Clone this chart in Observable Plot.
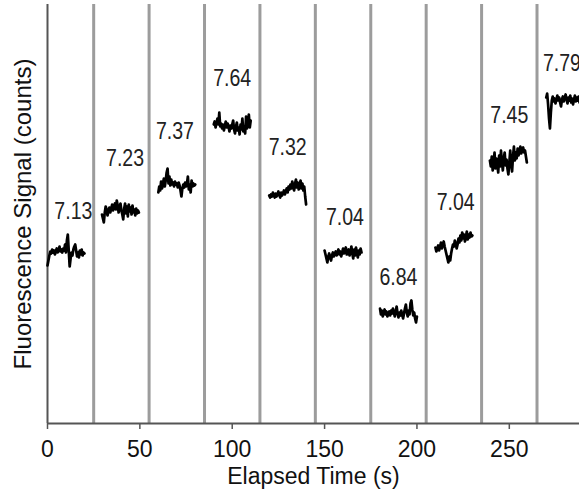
<!DOCTYPE html>
<html>
<head>
<meta charset="utf-8">
<script src="https://cdn.jsdelivr.net/npm/d3@7"></script>
<script src="https://cdn.jsdelivr.net/npm/@observablehq/plot@0.6"></script>
<style>
  html, body { margin: 0; padding: 0; background: #fff; }
  #chart svg { display: block; }
</style>
</head>
<body>
<div id="chart"></div>
<script>
// Segment start times (s) and sampling interval
const segmentStarts = [0, 29.5, 60, 90, 120, 150, 180, 210, 239.5, 270];
const sampleInterval = 0.5;

// Fluorescence signal (counts) for each measurement segment
const seg1 = [735, 740, 745, 749, 747, 751, 748, 750, 746, 749, 752, 748, 750, 754, 749, 751, 748, 752, 750, 756, 748, 760, 766, 750, 734, 742, 748, 745, 751, 754, 756, 750, 744, 748, 743, 750, 746, 751, 745, 748, 747];
const seg2 = [786, 782, 778, 788, 794, 791, 785, 789, 793, 788, 792, 796, 790, 794, 797, 791, 800, 795, 788, 793, 797, 790, 786, 781, 792, 797, 787, 794, 784, 796, 789, 793, 786, 795, 788, 791, 785, 792, 787, 790, 788];
const seg3 = [808, 814, 810, 819, 812, 817, 822, 814, 820, 828, 832, 817, 824, 815, 821, 816, 818, 814, 819, 816, 817, 813, 818, 815, 810, 804, 812, 816, 813, 818, 814, 817, 824, 811, 816, 808, 820, 814, 817, 815, 816];
const seg4 = [876, 879, 873, 878, 882, 876, 888, 874, 877, 872, 876, 870, 875, 879, 873, 877, 874, 869, 875, 872, 876, 880, 871, 867, 874, 878, 870, 873, 866, 876, 871, 882, 869, 874, 867, 884, 872, 878, 886, 873, 880];
const seg5 = [805, 803, 806, 804, 808, 805, 803, 807, 804, 806, 809, 805, 803, 808, 805, 807, 810, 806, 809, 812, 808, 814, 811, 816, 812, 819, 814, 810, 817, 821, 813, 818, 811, 815, 820, 812, 817, 810, 814, 804, 796];
const seg6 = [750, 746, 742, 738, 744, 747, 743, 740, 745, 748, 744, 747, 749, 745, 748, 751, 746, 749, 744, 748, 752, 747, 750, 753, 746, 749, 751, 745, 748, 754, 747, 742, 751, 745, 753, 748, 743, 750, 746, 752, 748];
const seg7 = [692, 686, 690, 684, 688, 691, 686, 689, 684, 687, 689, 685, 690, 687, 692, 688, 684, 689, 694, 687, 683, 688, 685, 690, 686, 682, 687, 692, 696, 688, 684, 690, 686, 697, 700, 691, 685, 688, 682, 678, 684];
const seg8 = [753, 749, 752, 755, 750, 754, 758, 752, 756, 759, 754, 750, 746, 742, 738, 744, 740, 747, 752, 756, 754, 760, 757, 752, 756, 762, 758, 765, 760, 768, 762, 766, 759, 764, 769, 761, 766, 763, 768, 764, 765];
const seg9 = [840, 834, 844, 830, 838, 848, 832, 842, 836, 828, 845, 834, 850, 839, 830, 842, 848, 835, 841, 832, 826, 838, 850, 836, 829, 844, 854, 840, 848, 842, 852, 845, 850, 854, 847, 851, 853, 848, 850, 844, 838];
const seg10 = [903, 907, 896, 882, 872, 888, 900, 904, 899, 902, 897, 901, 905, 900, 903, 898, 894, 901, 904, 899, 903, 906, 901, 897, 903, 900, 905, 898, 902, 896, 901, 905, 899, 903, 900, 904, 898, 902, 900, 903, 901];
const segments = [seg1, seg2, seg3, seg4, seg5, seg6, seg7, seg8, seg9, seg10];

// Solution change markers (s)
const dividers = [25, 55, 85, 115, 145, 175, 205, 235, 265];

// pH annotations
const labelText = ["7.13", "7.23", "7.37", "7.64", "7.32", "7.04", "6.84", "7.04", "7.45", "7.79"];
const labelX = [14, 42, 69, 100, 130, 161, 190, 221, 250, 278.5];
const labelY = [789, 842, 869, 922, 853, 783, 723, 798, 885, 937];

// Axis ticks
const xTicks = [0, 50, 100, 150, 200, 250];
const xDomain = [0, 288];
const yDomain = [577, 996];

const points = segments.flatMap((vals, k) =>
  vals.map((v, i) => ({t: segmentStarts[k] + i * sampleInterval, v, seg: k}))
);
const labels = labelText.map((s, i) => ({s, x: labelX[i], y: labelY[i]}));

const chart = Plot.plot({
  width: 579,
  height: 490,
  marginLeft: 47,
  marginRight: 0,
  marginTop: 4,
  marginBottom: 67,
  style: {fontFamily: "'Liberation Sans', Arial, sans-serif", color: "#111", background: "#fff"},
  x: {domain: xDomain},
  y: {domain: yDomain, axis: null},
  marks: [
    Plot.ruleX(dividers, {stroke: "#9c9c9c", strokeWidth: 3}),
    Plot.ruleX([xDomain[0]], {stroke: "#555", strokeWidth: 2}),
    Plot.ruleY([yDomain[0]], {stroke: "#555", strokeWidth: 2}),
    Plot.axisX({ticks: xTicks, tickSize: 6, tickPadding: 11, fontSize: 23, label: null, stroke: "#555", strokeWidth: 1.5}),
    Plot.lineY(points, {x: "t", y: "v", z: "seg", stroke: "#000", strokeWidth: 2.7}),
    Plot.text(labels, {x: "x", y: "y", text: "s", fontSize: 24, fill: "#222"}),
    Plot.text(["Elapsed Time (s)"], {frameAnchor: "bottom", textAnchor: "middle", lineAnchor: "bottom", dy: 60, fontSize: 23, fill: "#111"}),
    Plot.text(["Fluorescence Signal (counts)"], {frameAnchor: "left", textAnchor: "middle", lineAnchor: "middle", rotate: -90, dx: -24, fontSize: 24, fill: "#111"})
  ]
});
// condense the pH annotations horizontally, like the reference's narrow type
d3.select(chart).selectAll("text")
  .filter(function () { return labelText.includes(this.textContent); })
  .attr("textLength", 38)
  .attr("lengthAdjust", "spacingAndGlyphs");
document.getElementById("chart").appendChild(chart);
</script>
</body>
</html>
